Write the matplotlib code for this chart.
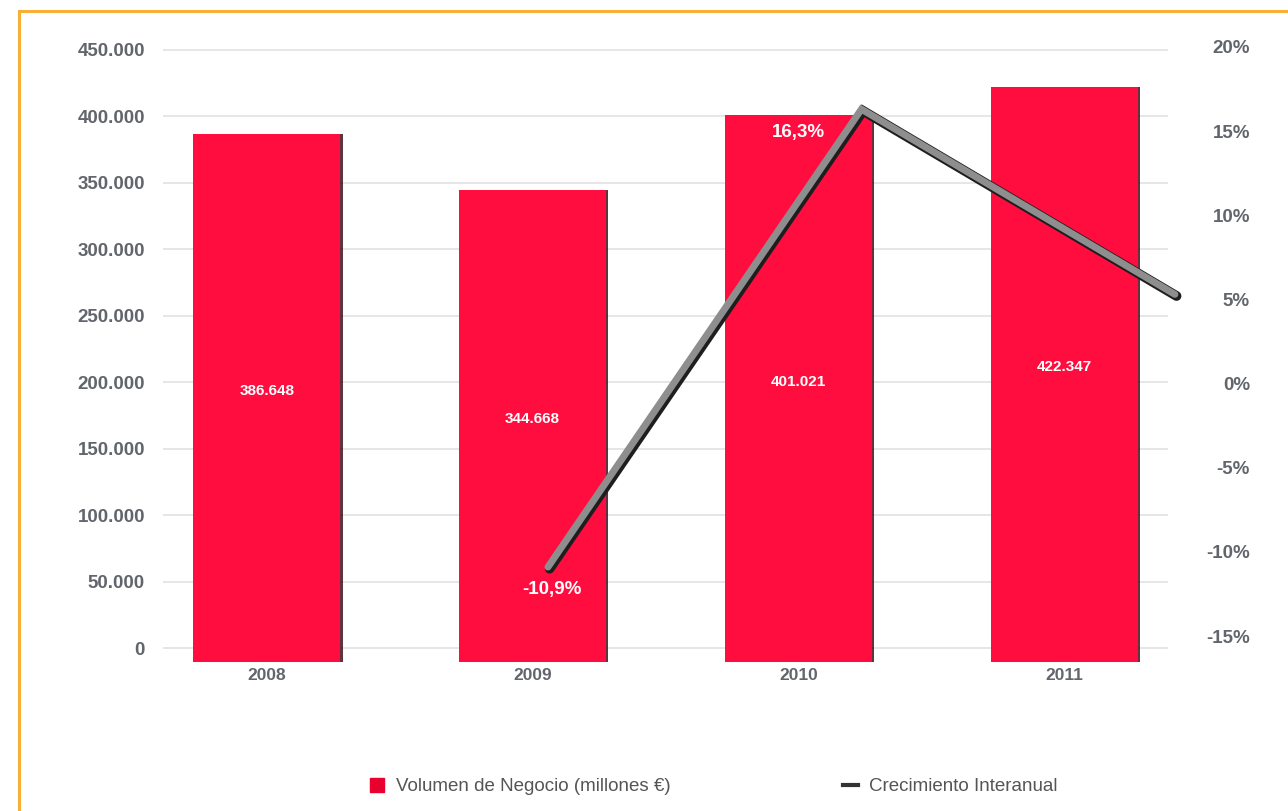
import matplotlib.pyplot as plt
import matplotlib.patheffects as pe
from matplotlib.patches import Rectangle
from matplotlib.lines import Line2D
from matplotlib.ticker import FuncFormatter
import numpy as np

plt.rcParams['font.family'] = ['Liberation Sans', 'DejaVu Sans']

# Data
years = ['2008', '2009', '2010', '2011']
volumen = [386648, 344668, 401021, 422347]      # millones €
growth_years = ['2009', '2010', '2011']
growth = [-10.9, 16.3, 5.3]                     # % as plotted
growth_labels = ['-10,9%', '16,3%', '-5,3%']    # labels as printed in the chart

bar_color = '#FF0D3F'
text_gray = '#62666c'

fig = plt.figure(figsize=(12.88, 8.11), dpi=100)
rect = [163 / 1288, 1 - 662 / 811, 1005 / 1288, 622 / 811]

# Bars
ax = fig.add_axes(rect)
x = np.arange(len(years))
floor = -10500
bars = ax.bar(x, np.asarray(volumen) - floor, bottom=floor, width=0.555, color=bar_color, zorder=2,
              path_effects=[pe.SimplePatchShadow(offset=(1.5, 0), shadow_rgbFace='#3a0010', alpha=0.8), pe.Normal()])
ax.set_xlim(-0.39, 3.39)
ax.set_ylim(floor, 457500)
ax.set_yticks(np.arange(0, 450001, 50000))
ax.yaxis.set_major_formatter(FuncFormatter(lambda v, p: f'{int(v):,}'.replace(',', '.')))
ax.set_xticks(x)
ax.set_xticklabels(years)
ax.grid(axis='y', color='#e2e2e2', linewidth=1.2, zorder=0)
ax.set_axisbelow(True)
for s in ax.spines.values():
    s.set_visible(False)
ax.tick_params(axis='y', length=0, pad=13, labelsize=13.5, labelcolor=text_gray)
ax.tick_params(axis='x', length=0, pad=4, labelsize=12.5, labelcolor=text_gray)
for lab in ax.get_yticklabels() + ax.get_xticklabels():
    lab.set_fontweight('bold')

# Value labels in the middle of each bar
for i, v in enumerate(volumen):
    ax.text(i, v / 2, f'{v:,}'.replace(',', '.'), ha='center', va='center',
            color='white', fontsize=11, fontweight='bold', zorder=3)

# Growth line on its own axes (right scale)
ax2 = fig.add_axes(rect)
ax2.set_facecolor('none')
ax2.set_xlim(-1.228, 1.978)
ax2.set_ylim(-16.54, 20.41)
ax2.set_yticks(np.arange(-15, 21, 5))
ax2.yaxis.set_major_formatter(FuncFormatter(lambda v, p: f'{int(v)}%'))
ax2.yaxis.tick_right()
ax2.set_xticks([])
for s in ax2.spines.values():
    s.set_visible(False)
ax2.tick_params(axis='y', length=0, pad=59, labelsize=13.5, labelcolor=text_gray)
for lab in ax2.get_yticklabels():
    lab.set_fontweight('bold')
    lab.set_horizontalalignment('right')

gx = np.arange(len(growth_years))
ax2.plot(gx, growth, color='#8e8e8e', linewidth=5, solid_capstyle='round', solid_joinstyle='miter',
         clip_on=False, zorder=4,
         path_effects=[pe.Stroke(linewidth=7, foreground='#1e1e1e', offset=(1.2, -1.2)), pe.Normal()])

offsets = [(3, -16), (-45, -17), (-51, 0)]
for i, (v, lab) in enumerate(zip(growth, growth_labels)):
    ax2.annotate(lab, (gx[i], v), xytext=offsets[i], textcoords='offset points',
                 ha='center', va='center', color='white', fontsize=13.5, fontweight='bold', zorder=5)

# Legend
handles = [Line2D([], [], marker='s', linestyle='none', markersize=10, color='#e8002e'),
           Line2D([], [], color='#333333', linewidth=3)]
fig.legend(handles, ['Volumen de Negocio (millones €)', 'Crecimiento Interanual'],
           loc='center', bbox_to_anchor=(0.554, 0.03), ncol=2, frameon=False,
           fontsize=13.5, labelcolor='#555555', handlelength=0.8, handletextpad=0.6,
           columnspacing=9.2)

# Orange frame
fig.add_artist(Rectangle((19 / 1288, -0.05), 1.1, 1 - 11 / 811 + 0.05, transform=fig.transFigure,
                         fill=False, edgecolor='#F7B035', linewidth=2.2))

plt.savefig('out.png', dpi=100)
